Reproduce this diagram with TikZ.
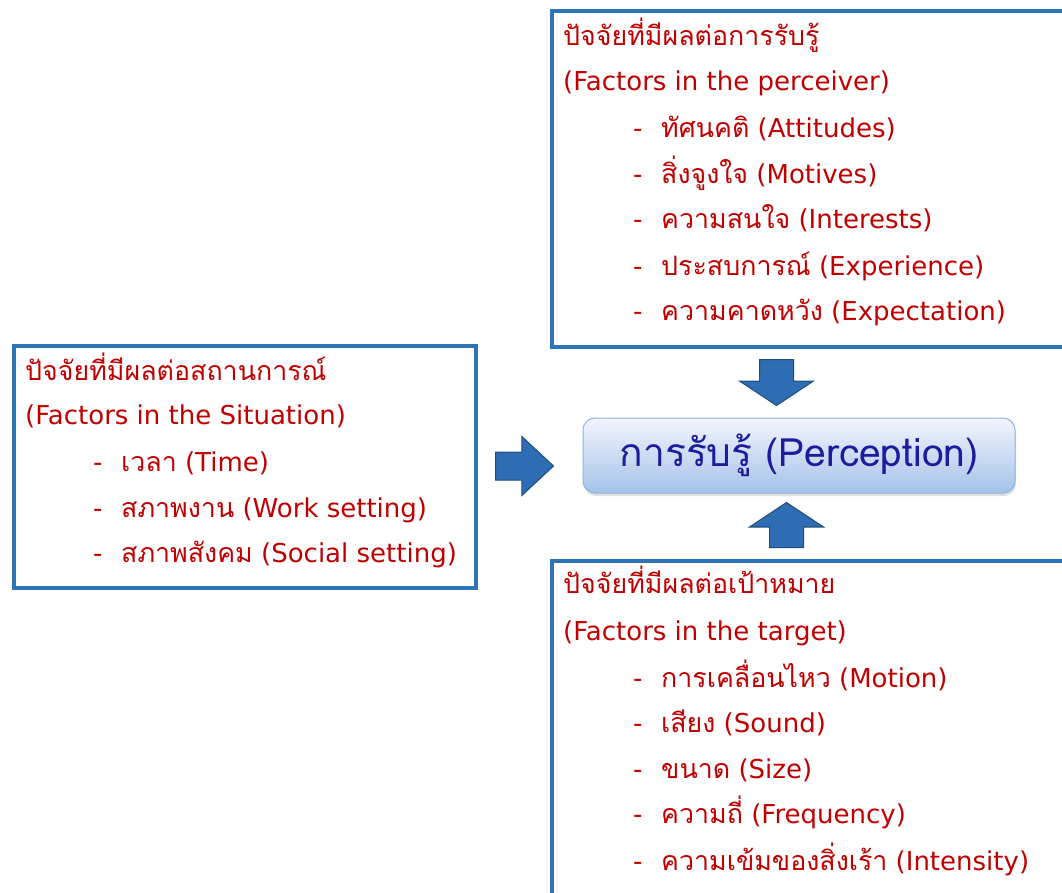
\documentclass[tikz,border=0pt]{standalone}
\usepackage{fontspec}
\setmainfont{DejaVu Sans}
\newfontfamily\thaifont[Script=Thai, Scale=1.03]{Loma}
\usetikzlibrary{shapes.arrows,shadows}

\definecolor{boxblue}{HTML}{2E75B6}
\definecolor{arrowblue}{HTML}{2E6DB4}
\definecolor{arrowedge}{HTML}{1F4E79}
\definecolor{factorred}{HTML}{C00000}
\definecolor{perceptblue}{HTML}{1C1C9C}
\definecolor{perceptedge}{HTML}{8DB3E2}

\newcommand{\itemdash}{\makebox[28pt][l]{-}}
\newcommand{\thaitext}[1]{{\thaifont #1}}

\tikzset{
  factorbox/.style={draw=boxblue, line width=4pt, fill=white, inner sep=0pt, anchor=north west},
  factortext/.style={anchor=base west, inner sep=0pt, text=factorred, font=\fontsize{26}{26}\selectfont},
  blockarrow/.style={single arrow, draw=arrowedge, fill=arrowblue, line width=1pt,
    inner xsep=16.5pt, inner ysep=0pt, single arrow head extend=20pt, single arrow tip angle=113, anchor=tail},
  perceptbox/.style={rounded corners=12pt, draw=perceptedge, line width=1pt,
    top color=blue!4, bottom color=perceptedge!80!white,
    minimum width=432pt, minimum height=75pt, text=perceptblue, font=\thaifont\fontsize{37.9}{37.9}\selectfont,
    drop shadow={opacity=0.25, shadow xshift=1pt, shadow yshift=-3pt}}
}

\begin{document}
\begin{tikzpicture}[x=1pt, y=-1pt]
  \clip (0,0) rectangle (1062,892);
  \fill[white] (0,0) rectangle (1062,892);

  % boxes
  \node[factorbox, minimum width=600pt, minimum height=336pt] (perceiver) at (550,9) {};
  \node[factorbox, minimum width=462pt, minimum height=242pt] (situation) at (12,344) {};
  \node[factorbox, minimum width=600pt, minimum height=400pt] (target) at (550,559) {};

  % centre
  \node[perceptbox] (percept) at (799,455.5) {การรับรู้ (Perception)};

  % arrows
  \node[blockarrow, minimum height=46pt, shape border rotate=270] (downarrow) at (776.5,359) {};
  \node[blockarrow, minimum height=45pt, shape border rotate=90] (uparrow) at (786.5,548) {};
  \node[blockarrow, minimum height=58pt, inner xsep=0pt, inner ysep=13.5pt, single arrow head extend=15.5pt,
    single arrow tip angle=86] (rightarrow) at (495,466) {};

  % perceiver
  \node[factortext] (perceiverhead) at (563,45) {\thaitext{ปัจจัยที่มีผลต่อการรับรู้}};
  \node[factortext] (perceivertitle) at (563,90) {(Factors in the perceiver)};
  \node[factortext] (attitudes) at (633,137) {\itemdash\thaitext{ทัศนคติ} (Attitudes)};
  \node[factortext] (motives) at (633,183) {\itemdash\thaitext{สิ่งจูงใจ} (Motives)};
  \node[factortext] (interests) at (633,228) {\itemdash\thaitext{ความสนใจ} (Interests)};
  \node[factortext] (experience) at (633,275) {\itemdash\thaitext{ประสบการณ์} (Experience)};
  \node[factortext] (expectation) at (633,320) {\itemdash\thaitext{ความคาดหวัง} (Expectation)};

  % situation
  \node[factortext] (situationhead) at (25,380) {\thaitext{ปัจจัยที่มีผลต่อสถานการณ์}};
  \node[factortext] (situationtitle) at (25,424) {(Factors in the Situation)};
  \node[factortext] (time) at (93,471) {\itemdash\thaitext{เวลา} (Time)};
  \node[factortext] (work) at (93,517) {\itemdash\thaitext{สภาพงาน} (Work setting)};
  \node[factortext] (social) at (93,562) {\itemdash\thaitext{สภาพสังคม} (Social setting)};

  % target
  \node[factortext] (targethead) at (563,593) {\thaitext{ปัจจัยที่มีผลต่อเป้าหมาย}};
  \node[factortext] (targettitle) at (563,640) {(Factors in the target)};
  \node[factortext] (motion) at (633,687) {\itemdash\thaitext{การเคลื่อนไหว} (Motion)};
  \node[factortext] (sound) at (633,732) {\itemdash\thaitext{เสียง} (Sound)};
  \node[factortext] (size) at (633,778) {\itemdash\thaitext{ขนาด} (Size)};
  \node[factortext] (frequency) at (633,823) {\itemdash\thaitext{ความถี่} (Frequency)};
  \node[factortext] (intensity) at (633,870) {\itemdash\thaitext{ความเข้มของสิ่งเร้า} (Intensity)};
\end{tikzpicture}
\end{document}
